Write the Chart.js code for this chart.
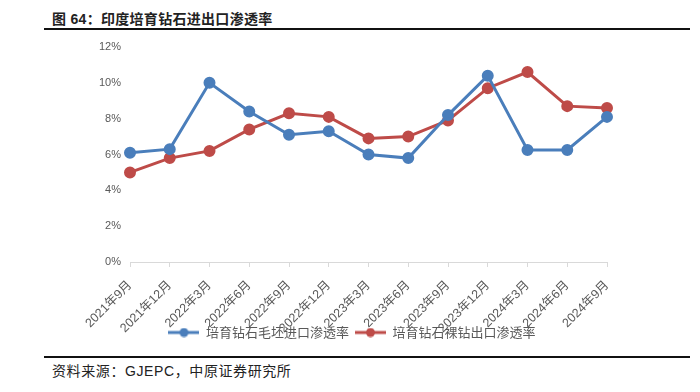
<!DOCTYPE html>
<html>
<head>
<meta charset="utf-8">
<script src="https://cdn.jsdelivr.net/npm/chart.js@4/dist/chart.umd.min.js"></script>
<style>
body { margin: 0; width: 700px; height: 392px; background: #fff; position: relative; overflow: hidden; font-family: "Liberation Sans", "Noto Sans CJK SC", sans-serif; }
#title { position: absolute; left: 52px; top: 8px; font-size: 14px; font-weight: bold; color: #222; letter-spacing: 0.3px; }
#topLine { position: absolute; left: 44px; top: 28px; width: 646px; height: 2px; background: #111; }
#botLine { position: absolute; left: 44px; top: 356px; width: 646px; height: 2px; background: #111; }
#source { position: absolute; left: 52px; top: 360px; font-size: 14px; color: #222; letter-spacing: 0.6px; }
#wrap { position: absolute; left: 0; top: 0; width: 700px; height: 349px; }
</style>
</head>
<body>
<div id="title">图 64：印度培育钻石进出口渗透率</div>
<div id="topLine"></div>
<div id="wrap"><canvas id="chart"></canvas></div>
<div id="botLine"></div>
<div id="source">资料来源：GJEPC，中原证券研究所</div>
<script>
const categories = ['2021年9月', '2021年12月', '2022年3月', '2022年6月', '2022年9月', '2022年12月', '2023年3月', '2023年6月', '2023年9月', '2023年12月', '2024年3月', '2024年6月', '2024年9月'];
const roughImport = [6.1, 6.3, 10.0, 8.4, 7.1, 7.3, 6.0, 5.8, 8.2, 10.4, 6.25, 6.25, 8.1];
const polishedExport = [5.0, 5.8, 6.2, 7.4, 8.3, 8.1, 6.9, 7.0, 7.9, 9.7, 10.6, 8.7, 8.6];
const seriesNames = ['培育钻石毛坯进口渗透率', '培育钻石裸钻出口渗透率'];
const blue = '#4A7EBB';
const red = '#BE4B48';

// category axis whose rotated labels may spill below its box (no clipping)
class OpenCategoryScale extends Chart.CategoryScale {
  _computeLabelArea() { return undefined; }
}
OpenCategoryScale.id = 'openCategory';
OpenCategoryScale.defaults = Chart.CategoryScale.defaults;
Chart.register(OpenCategoryScale);

// little line+dot marker for the legend
function legendMark(color) {
  const c = document.createElement('canvas');
  c.width = 31; c.height = 10;
  const g = c.getContext('2d');
  g.strokeStyle = color; g.lineWidth = 3;
  g.beginPath(); g.moveTo(0, 5); g.lineTo(31, 5); g.stroke();
  g.fillStyle = color;
  g.beginPath(); g.arc(15.5, 5, 4.5, 0, Math.PI * 2); g.fill();
  return c;
}

const ctx = document.getElementById('chart');
new Chart(ctx, {
  type: 'line',
  data: {
    labels: categories,
    datasets: [{
      label: seriesNames[0],
      data: roughImport,
      borderColor: blue,
      backgroundColor: blue,
      borderWidth: 3,
      pointRadius: 4.5,
      pointHoverRadius: 4.5,
      tension: 0
    }, {
      label: seriesNames[1],
      data: polishedExport,
      borderColor: red,
      backgroundColor: red,
      borderWidth: 3,
      pointRadius: 4.5,
      pointHoverRadius: 4.5,
      tension: 0
    }]
  },
  options: {
    responsive: true,
    maintainAspectRatio: false,
    animation: false,
    layout: { padding: { left: 97, right: 93, top: 47, bottom: 0 } },
    scales: {
      x: {
        type: 'openCategory',
        offset: false,
        grid: { display: true, drawOnChartArea: false, drawTicks: true, tickLength: 5, color: '#d9d9d9' },
        border: { display: true, color: '#d9d9d9', width: 1 },
        ticks: {
          color: '#595959',
          font: { size: 12.5, family: '"Liberation Sans", "Noto Sans CJK SC"' },
          maxRotation: 45, minRotation: 45, autoSkip: false, padding: 11
        },
        afterFit: function(scale) {
          scale.height = 58;
          scale.paddingLeft = 0;
          scale.paddingRight = 0;
        }
      },
      y: {
        min: 0, max: 12,
        grid: { display: false, drawTicks: false },
        border: { display: false },
        ticks: {
          stepSize: 2,
          color: '#595959',
          padding: 9,
          font: { size: 11, family: '"Liberation Sans", "Noto Sans CJK SC"' },
          callback: function(v) { return v + '%'; }
        },
        afterFit: function(scale) { scale.width = 33; }
      }
    },
    plugins: {
      legend: {
        position: 'bottom',
        labels: {
          usePointStyle: true,
          pointStyleWidth: 31,
          color: '#595959',
          padding: 6,
          boxWidth: 31,
          font: { size: 13, family: '"Noto Sans CJK SC"' },
          generateLabels: function(chart) {
            return chart.data.datasets.map(function(ds, i) {
              return {
                text: ds.label,
                fillStyle: ds.borderColor,
                strokeStyle: ds.borderColor,
                fontColor: '#595959',
                lineWidth: 0,
                pointStyle: legendMark(ds.borderColor),
                datasetIndex: i,
                hidden: false
              };
            });
          }
        }
      },
      title: { display: false },
      tooltip: { enabled: false }
    }
  }
});
</script>
</body>
</html>
